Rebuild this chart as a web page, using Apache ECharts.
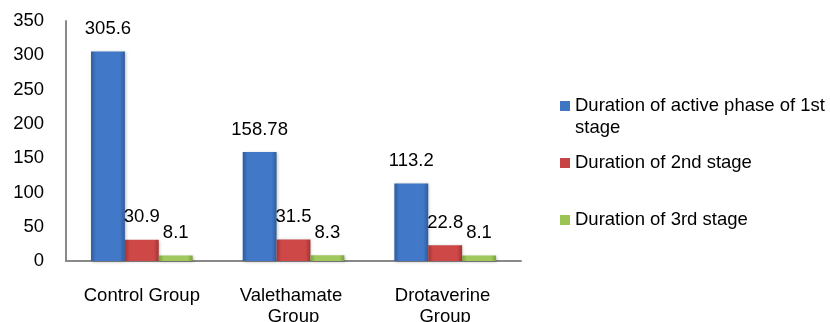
<!DOCTYPE html>
<html>
<head>
<meta charset="utf-8">
<script src="https://cdn.jsdelivr.net/npm/echarts@6/dist/echarts.min.js"></script>
<style>html,body{margin:0;padding:0;background:#fff}#c{width:830px;height:322px}</style>
</head>
<body>
<div id="c"></div>
<script>
var categories = ['Control Group', 'Valethamate Group', 'Drotaverine Group'];
var seriesNames = ['Duration of active phase of 1st stage', 'Duration of 2nd stage', 'Duration of 3rd stage'];
var activePhase1st = [305.6, 158.78, 113.2];
var stage2nd = [30.9, 31.5, 22.8];
var stage3rd = [8.1, 8.3, 8.1];
var yTicks = [0, 50, 100, 150, 200, 250, 300, 350];

function grad(edge, mid) {
  return new echarts.graphic.LinearGradient(0, 0, 1, 0, [
    {offset: 0, color: edge}, {offset: 0.15, color: mid},
    {offset: 0.85, color: mid}, {offset: 1, color: edge}
  ]);
}
var colors = [grad('#2f5c9e', '#4179c8'), grad('#a33434', '#cf4848'), grad('#7ea040', '#a0c85c')];
var legendColors = ['#3f76c4', '#c84444', '#9bc454'];
var font = '"Liberation Sans", Arial, sans-serif';
var fs = 18.5;

function mkSeries(i, data) {
  return {
    name: seriesNames[i], type: 'bar', data: data,
    barGap: '0%', barCategoryGap: '33%',
    itemStyle: {color: colors[i], shadowColor: 'rgba(0,0,0,0.25)', shadowBlur: 3, shadowOffsetX: 1, shadowOffsetY: 1},
    label: {show: true, position: 'top', distance: 13, color: '#000', fontSize: fs, fontFamily: font},
    emphasis: {disabled: true}
  };
}

var chart = echarts.init(document.getElementById('c'), null, {renderer: 'canvas'});
var txt = {fontSize: fs, fontFamily: font, color: '#000', lineHeight: 22};
var legendBase = {
  orient: 'vertical', left: 560, padding: 0, itemWidth: 10, itemHeight: 10, icon: 'rect',
  selectedMode: false,
  textStyle: txt
};
chart.setOption({
  animation: false,
  color: legendColors,
  grid: {left: 66, right: 309, top: 21, bottom: 61, containLabel: false, outerBoundsMode: 'none'},
  legend: [
    Object.assign({}, legendBase, {top: 73, data: [{name: seriesNames[0], itemStyle: {color: legendColors[0]}}],
      formatter: function () { return '{s| }\n{t|Duration of active phase of 1st}\n{t|stage}'; },
      textStyle: Object.assign({}, txt, {rich: {s: {fontSize: fs, lineHeight: 22, fontFamily: font}, t: {fontSize: fs, lineHeight: 22, fontFamily: font, color: '#000'}}})}),
    Object.assign({}, legendBase, {top: 152, data: [{name: seriesNames[1], itemStyle: {color: legendColors[1]}}]}),
    Object.assign({}, legendBase, {top: 209, data: [{name: seriesNames[2], itemStyle: {color: legendColors[2]}}]})
  ],
  xAxis: {
    type: 'category', data: categories,
    axisLine: {lineStyle: {color: '#898989', width: 2}},
    axisTick: {show: false},
    axisLabel: {color: '#000', fontSize: fs, fontFamily: font, margin: 24, width: 130, overflow: 'break', lineHeight: 21, interval: 0}
  },
  yAxis: {
    type: 'value', min: 0, max: 350, interval: 50,
    axisLine: {show: true, lineStyle: {color: '#898989', width: 2}},
    axisTick: {show: false},
    splitLine: {show: false},
    axisLabel: {color: '#000', fontSize: fs, fontFamily: font, margin: 22,
      formatter: function (v) { return yTicks.indexOf(v) >= 0 ? String(v) : ''; }}
  },
  series: [mkSeries(0, activePhase1st), mkSeries(1, stage2nd), mkSeries(2, stage3rd)]
});
</script>
</body>
</html>
